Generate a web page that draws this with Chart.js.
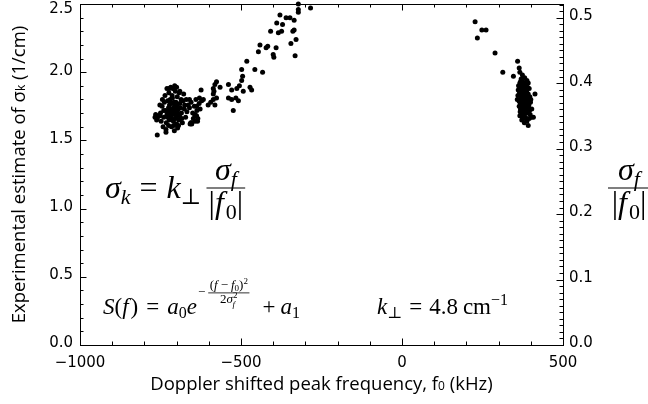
<!DOCTYPE html>
<html>
<head>
<meta charset="utf-8">
<script src="https://cdn.jsdelivr.net/npm/chart.js@4/dist/chart.umd.min.js"></script>
<style>
html, body { margin: 0; padding: 0; background: #fff; }
canvas { display: block; }
</style>
</head>
<body>
<canvas id="chart" width="648" height="404"></canvas>
<script>
// left cluster (around -710 kHz)
const leftClusterF = [-712,-705,-718,-700,-725,-708,-695,-715,-730,-690,
    -720,-702,-710,-698,-735,-685,-722,-706,-714,-693,
    -740,-728,-700,-688,-716,-745,-680,-732,-704,-697,
    -720,-711,-703,-726,-691,-709,-717,-699,-723,-713,
    -676,-684,-738,-750,-755,-760,-765,-748,-742,-733,
    -725,-707,-694,-682,-672,-668,-664,-670,-678,-690,
    -700,-712,-724,-736,-744,-752,-718,-706,-730,-660,
    -655,-650,-645,-640,-637,-630,-648,-658,-643,-635,
    -653,-760,-733,-767,-762,-752,-723,-708,-692,-660,
    -706,-714,-702,-719,-696,-727,-709,-686,-675,-740];
const leftClusterSigma = [1.72,1.75,1.70,1.68,1.74,1.78,1.73,1.66,1.69,1.77,
    1.80,1.71,1.64,1.82,1.72,1.70,1.76,1.69,1.83,1.65,
    1.67,1.79,1.62,1.74,1.60,1.75,1.79,1.63,1.86,1.59,
    1.73,1.77,1.66,1.71,1.68,1.74,1.68,1.76,1.65,1.81,
    1.73,1.66,1.78,1.70,1.68,1.66,1.69,1.64,1.60,1.58,
    1.61,1.57,1.61,1.63,1.67,1.71,1.76,1.80,1.84,1.86,
    1.89,1.88,1.85,1.83,1.80,1.76,1.89,1.90,1.88,1.74,
    1.78,1.70,1.75,1.80,1.72,1.77,1.66,1.62,1.68,1.64,
    1.63,1.54,1.56,1.67,1.65,1.68,1.88,1.88,1.85,1.80,
    1.73,1.70,1.78,1.78,1.70,1.67,1.61,1.80,1.76,1.72];

// rising trail between the clusters
const trailF = [-624,-629,-622,-617,-602,-581,-638,-627,-643,-638,-634,-643,-653,-656,
    -586,-576,-594,-539,-529,-516,-508,-524,
    -576,-581,-586,-584,-586,-565,-539,-529,-513,-505,-493,-472,-467,
    -498,-495,-498,-457,-433,-482,
    -446,-441,-422,-417,-391,-400,-398,-332,-345,-329,
    -408,-384,-374,-339,-335,-389,-371,-360,-348,-335,-379,
    -322,-322,-322,-284];
const trailSigma = [1.87,1.81,1.79,1.80,1.76,1.76,1.75,1.73,1.69,1.68,1.66,1.64,1.62,1.63,
    1.80,1.81,1.78,1.81,1.80,1.81,1.79,1.72,
    1.93,1.91,1.88,1.86,1.84,1.89,1.91,1.87,1.88,1.90,1.86,1.89,1.87,
    1.94,1.97,2.02,2.02,2.00,2.08,
    2.15,2.20,2.18,2.19,2.18,2.13,2.11,2.12,2.21,2.24,
    2.30,2.29,2.30,2.30,2.31,2.36,2.35,2.40,2.40,2.38,2.42,
    2.50,2.46,2.44,2.47];

// right cluster (around +380 kHz)
const rightClusterF = [227,248,261,234,289,313,346,359,364,366,
    366,375,392,402,408,413,
    370,375,380,372,378,385,368,382,390,374,
    379,387,365,371,383,392,376,369,386,380,
    373,391,366,378,385,370,382,394,375,388,
    368,380,372,386,377,392,370,383,396,364,
    374,381,368,388,362,395,360,397,363,399,
    376,384,371,379,389,374,381,367,393,378,
    385,372,388,380,398,403,376,383,369,390,
    377,373,387,379,395,361,366,392,400,358];
const rightClusterSigma = [2.37,2.31,2.31,2.25,2.14,2.00,1.97,2.08,2.03,2.00,
    1.68,1.66,1.61,1.67,1.67,1.84,
    1.95,1.93,1.92,1.90,1.89,1.91,1.88,1.87,1.89,1.86,
    1.85,1.86,1.85,1.84,1.83,1.84,1.82,1.81,1.81,1.80,
    1.79,1.79,1.78,1.78,1.77,1.76,1.75,1.76,1.74,1.73,
    1.73,1.72,1.71,1.70,1.69,1.70,1.68,1.67,1.72,1.75,
    1.98,1.96,1.93,1.94,1.90,1.88,1.83,1.82,1.79,1.78,
    1.88,1.85,1.83,1.76,1.75,1.77,1.82,1.71,1.74,1.70,
    1.66,1.65,1.64,1.63,1.69,1.73,1.91,1.89,1.86,1.82,
    1.80,1.74,1.78,1.67,1.66,1.87,1.92,1.92,1.80,1.80];

const kPerp = 4.8;

const xTickValues = [-1000, -500, 0, 500];
const xTickLabels = ['\u22121000', '\u2212500', '0', '500'];
const yLeftTickValues = [0, 0.5, 1.0, 1.5, 2.0, 2.5];
const yLeftTickLabels = ['0.0', '0.5', '1.0', '1.5', '2.0', '2.5'];
const yRightTickValues = [0, 0.1, 0.2, 0.3, 0.4, 0.5];
const yRightTickLabels = ['0.0', '0.1', '0.2', '0.3', '0.4', '0.5'];

function toPoints(fs, sigmas) {
    return fs.map((f, i) => ({ x: f, y: sigmas[i] }));
}

const allPoints = [
    ...toPoints(leftClusterF, leftClusterSigma),
    ...toPoints(trailF, trailSigma),
    ...toPoints(rightClusterF, rightClusterSigma)
];

const SANS = '"DejaVu Sans", sans-serif';
const TITLE = '"Open Sans", "Liberation Sans", sans-serif';
const SERIF = '"Liberation Serif", "DejaVu Serif", serif';

// draw a row of text runs, returns the x where it ended
function runs(ctx, x, y, parts, measureOnly) {
    for (const p of parts) {
        if (p.gap) { x += p.gap; continue; }
        ctx.font = p.font;
        if (!measureOnly) ctx.fillText(p.t, x, y + (p.dy || 0));
        x += ctx.measureText(p.t).width;
    }
    return x;
}

function runsWidth(ctx, parts) {
    return runs(ctx, 0, 0, parts, true);
}

function fraction(ctx, left, barY, num, den, size, barW) {
    const nw = runsWidth(ctx, num);
    const dw = runsWidth(ctx, den);
    const w = barW || Math.max(nw, dw) + 4;
    runs(ctx, left + (w - nw) / 2, barY - size * 0.25, num);
    runs(ctx, left + (w - dw) / 2, barY + size * 0.78, den);
    ctx.fillRect(left, barY - 0.5, w, 1);
    return left + w;
}

const idlFrame = {
    id: 'idlFrame',
    afterDatasetsDraw(chart) {
        const ctx = chart.ctx;
        const a = chart.chartArea;
        const sx = chart.scales.x, sy = chart.scales.y, sy2 = chart.scales.y2;
        ctx.save();
        ctx.strokeStyle = '#000';
        ctx.fillStyle = '#000';
        ctx.lineWidth = 1;

        ctx.strokeRect(Math.round(a.left) + 0.5, Math.round(a.top) + 0.5,
            Math.round(a.right - a.left), Math.round(a.bottom - a.top));

        ctx.beginPath();
        // x ticks, bottom and top, pointing inwards
        for (let v = -1000; v <= 500; v += 100) {
            const px = Math.round(sx.getPixelForValue(v)) + 0.5;
            const len = v % 500 === 0 ? 6.5 : 3.5;
            ctx.moveTo(px, a.bottom); ctx.lineTo(px, a.bottom - len);
            ctx.moveTo(px, a.top); ctx.lineTo(px, a.top + len);
        }
        // left axis
        for (let i = 0; i <= 25; i++) {
            const py = Math.round(sy.getPixelForValue(i / 10)) + 0.5;
            const len = i % 5 === 0 ? 6.5 : 3.5;
            ctx.moveTo(a.left, py); ctx.lineTo(a.left + len, py);
        }
        // right axis
        for (let i = 0; i <= 52; i++) {
            const py = Math.round(sy2.getPixelForValue(i / 100)) + 0.5;
            const len = i % 10 === 0 ? 6.5 : 3.5;
            ctx.moveTo(a.right, py); ctx.lineTo(a.right - len, py);
        }
        ctx.stroke();

        // tick labels
        ctx.font = '15px ' + SANS;
        ctx.textBaseline = 'middle';
        ctx.textAlign = 'center';
        xTickValues.forEach((v, i) => {
            ctx.fillText(xTickLabels[i], sx.getPixelForValue(v), a.bottom + 18);
        });
        ctx.textAlign = 'right';
        yLeftTickValues.forEach((v, i) => {
            const py = Math.max(sy.getPixelForValue(v) - 1.5, 9.5);
            ctx.fillText(yLeftTickLabels[i], a.left - 7, py);
        });
        ctx.textAlign = 'left';
        yRightTickValues.forEach((v, i) => {
            ctx.fillText(yRightTickLabels[i], a.right + 6, sy2.getPixelForValue(v) - 1.5);
        });

        // axis titles
        ctx.textAlign = 'left';
        const xTitle = [
            { t: 'Doppler shifted peak frequency, f', font: '18.5px ' + TITLE },
            { t: '0', font: '12px ' + TITLE, dy: 2 },
            { t: ' (kHz)', font: '18.5px ' + TITLE }
        ];
        const xw = runsWidth(ctx, xTitle);
        runs(ctx, (a.left + a.right) / 2 - xw / 2, 385, xTitle);

        const yTitle = [
            { t: 'Experimental estimate of \u03c3', font: '18.5px ' + TITLE },
            { t: 'k', font: '12px ' + TITLE, dy: 2 },
            { t: ' (1/cm)', font: '18.5px ' + TITLE }
        ];
        const yw = runsWidth(ctx, yTitle);
        ctx.save();
        ctx.translate(20, (a.top + a.bottom) / 2);
        ctx.rotate(-Math.PI / 2);
        runs(ctx, -yw / 2, 0, yTitle);
        ctx.restore();

        // formulas
        ctx.textBaseline = 'alphabetic';
        const it32 = 'italic 32px ' + SERIF, rm32 = '32px ' + SERIF;
        const it22 = 'italic 22px ' + SERIF, rm22 = '22px ' + SERIF;
        const it23 = 'italic 23px ' + SERIF, rm23 = '23px ' + SERIF;
        const rm16 = '16px ' + SERIF;
        const it13 = 'italic 13px ' + SERIF, rm13 = '13px ' + SERIF;
        const rm9 = '9px ' + SERIF, it9 = 'italic 9px ' + SERIF;

        const sigmaF = [{ t: '\u03c3', font: it32 }, { t: 'f', font: it22, dy: 6 }];
        const absF0 = [{ t: '|', font: rm32 }, { t: 'f', font: it32 }, { gap: 2 }, { t: '0', font: rm22, dy: 6 }, { t: '|', font: rm32 }];

        let x = runs(ctx, a.left + 25, 198, [
            { t: '\u03c3', font: it32 }, { t: 'k', font: it22, dy: 6 },
            { gap: 9 }, { t: '=', font: rm32 }, { gap: 9 },
            { t: 'k', font: it32 }, { t: '\u22a5', font: rm22, dy: 6 }, { gap: 5 }
        ]);
        fraction(ctx, x, 188, sigmaF, absF0, 32);

        // S(f) line
        const base = 314;
        x = runs(ctx, a.left + 23, base, [
            { t: 'S', font: it23 }, { t: '(', font: rm23 }, { t: 'f', font: it23 }, { gap: 2 },
            { t: ')', font: rm23 }, { gap: 8 }, { t: '=', font: rm23 }, { gap: 8 },
            { t: 'a', font: it23 }, { t: '0', font: rm16, dy: 4 }, { t: 'e', font: it23 }
        ]);
        ctx.textBaseline = 'middle';
        ctx.font = rm13;
        ctx.fillText('\u2212', x + 1, base - 21);
        x += 1 + ctx.measureText('\u2212').width + 3;
        ctx.textBaseline = 'alphabetic';
        const expNum = [
            { t: '(', font: rm13 }, { t: 'f', font: it13 }, { gap: 3 }, { t: '\u2212', font: rm13 }, { gap: 3 },
            { t: 'f', font: it13 }, { t: '0', font: rm9, dy: 2 }, { t: ')', font: rm13 }, { t: '2', font: rm9, dy: -5 }
        ];
        const expDen = [
            { t: '2', font: rm13 }, { t: '\u03c3', font: it13 }, { t: '2', font: rm9, dy: -5 }
        ];
        const nw = runsWidth(ctx, expNum), dw = runsWidth(ctx, expDen);
        const fw = Math.max(nw, dw) + 3;
        runs(ctx, x + (fw - nw) / 2, base - 25, expNum);
        const dx = runs(ctx, x + (fw - dw) / 2, base - 11, expDen);
        ctx.font = it9;
        ctx.fillText('f', dx - 5, base - 7);
        ctx.fillRect(x, base - 21.5, fw, 0.8);
        x += fw + 13;
        runs(ctx, x, base, [
            { t: '+', font: rm23 }, { gap: 5 }, { t: 'a', font: it23 }, { t: '1', font: rm16, dy: 4 }
        ]);

        const kLine = [
            { t: 'k', font: it23 }, { t: '\u22a5', font: rm16, dy: 4 }, { gap: 7 },
            { t: '=', font: rm23 }, { gap: 7 }, { t: '4.8', font: rm23 }, { gap: 5 },
            { t: 'cm', font: rm23 }, { t: '\u22121', font: rm16, dy: -9 }
        ];
        const kw = runsWidth(ctx, kLine);
        runs(ctx, 508 - kw, base, kLine);

        // right-hand label: sigma_f / |f0|
        fraction(ctx, a.right + 45, 188, sigmaF, absF0, 32, 42);

        ctx.restore();
    }
};

new Chart(document.getElementById('chart').getContext('2d'), {
    type: 'scatter',
    data: {
        datasets: [{
            data: allPoints,
            backgroundColor: '#000',
            borderColor: '#000',
            borderWidth: 0,
            pointRadius: 2.5,
            clip: false
        }]
    },
    options: {
        responsive: false,
        animation: false,
        events: [],
        layout: { padding: { top: 3, left: 0, right: 0, bottom: 0 } },
        plugins: { legend: { display: false }, tooltip: { enabled: false } },
        scales: {
            x: {
                type: 'linear', position: 'bottom', min: -1000, max: 500,
                grid: { display: false, drawTicks: false }, border: { display: false },
                ticks: { display: false },
                afterFit: s => { s.height = 59; }
            },
            y: {
                type: 'linear', position: 'left', min: 0, max: 2.5,
                grid: { display: false, drawTicks: false }, border: { display: false },
                ticks: { display: false },
                afterFit: s => { s.width = 80; }
            },
            y2: {
                type: 'linear', position: 'right', min: 0, max: 2.5 / kPerp,
                grid: { display: false, drawTicks: false }, border: { display: false },
                ticks: { display: false },
                afterFit: s => { s.width = 85; }
            }
        }
    },
    plugins: [idlFrame]
});
</script>
</body>
</html>
